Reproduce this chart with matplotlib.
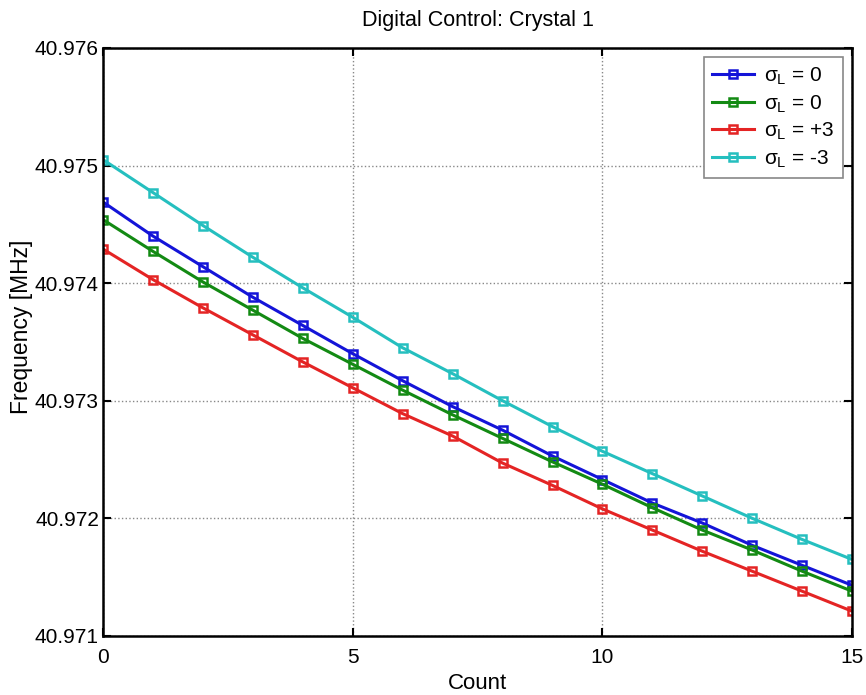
import matplotlib
matplotlib.use("Agg")
import matplotlib.pyplot as plt
from matplotlib.ticker import FormatStrFormatter
import numpy as np

plt.rcParams['font.family'] = ['Liberation Sans', 'DejaVu Sans']
plt.rcParams['mathtext.fontset'] = 'custom'
plt.rcParams['mathtext.rm'] = 'Liberation Sans'
plt.rcParams['mathtext.it'] = 'Liberation Sans'

count = np.arange(16)

# frequency in MHz
freq_blue = [40.97469, 40.97440, 40.97414, 40.97388, 40.97364, 40.97340, 40.97317, 40.97295,
             40.97275, 40.97253, 40.97233, 40.97213, 40.97196, 40.97177, 40.97160, 40.97143]
freq_green = [40.97454, 40.97427, 40.97401, 40.97377, 40.97353, 40.97331, 40.97309, 40.97288,
              40.97268, 40.97248, 40.97229, 40.97209, 40.97190, 40.97173, 40.97155, 40.97138]
freq_red = [40.97429, 40.97403, 40.97379, 40.97356, 40.97333, 40.97311, 40.97289, 40.97270,
            40.97247, 40.97228, 40.97208, 40.97190, 40.97172, 40.97155, 40.97138, 40.97121]
freq_cyan = [40.97505, 40.97477, 40.97449, 40.97422, 40.97396, 40.97371, 40.97345, 40.97323,
             40.97300, 40.97278, 40.97257, 40.97238, 40.97219, 40.97200, 40.97182, 40.97165]

labels = [r'$\sigma_L$ = 0', r'$\sigma_L$ = 0', r'$\sigma_L$ = +3', r'$\sigma_L$ = -3']
colors = ['#1414d8', '#138a13', '#e42424', '#25bfbf']

fig = plt.figure(figsize=(8.66, 6.95), dpi=100)
ax = fig.add_axes([0.119, 0.085, 0.865, 0.846])

for y, c, lab in zip([freq_blue, freq_green, freq_red, freq_cyan], colors, labels):
    ax.plot(count, y, color=c, lw=2.2, marker='s', ms=6, mfc='none', mew=1.8, label=lab)

ax.set_xlim(0, 15)
ax.set_ylim(40.971, 40.976)
ax.set_xticks([0, 5, 10, 15])
ax.set_yticks([40.971, 40.972, 40.973, 40.974, 40.975, 40.976])
ax.yaxis.set_major_formatter(FormatStrFormatter('%.3f'))
ax.tick_params(direction='in', top=True, right=True, labelsize=15, length=6, width=1.5)
ax.tick_params(axis='x', pad=9)
ax.tick_params(axis='y', pad=3)
ax.grid(True, ls=':', color='#888888', lw=1)
for s in ax.spines.values():
    s.set_linewidth(1.8)

ax.set_title('Digital Control: Crystal 1', fontsize=15.5, pad=16)
ax.set_xlabel('Count', fontsize=16, labelpad=4)
ax.set_ylabel('Frequency [MHz]', fontsize=16.5)
ax.yaxis.set_label_coords(-0.093, 0.525)

leg = ax.legend(loc='upper right', fontsize=15, fancybox=False, framealpha=1,
                edgecolor='#888888', borderaxespad=0.45, handlelength=2.0,
                handletextpad=0.5, labelspacing=0.3, borderpad=0.4)
leg.get_frame().set_linewidth(1.2)

fig.savefig('out.png', dpi=100)
